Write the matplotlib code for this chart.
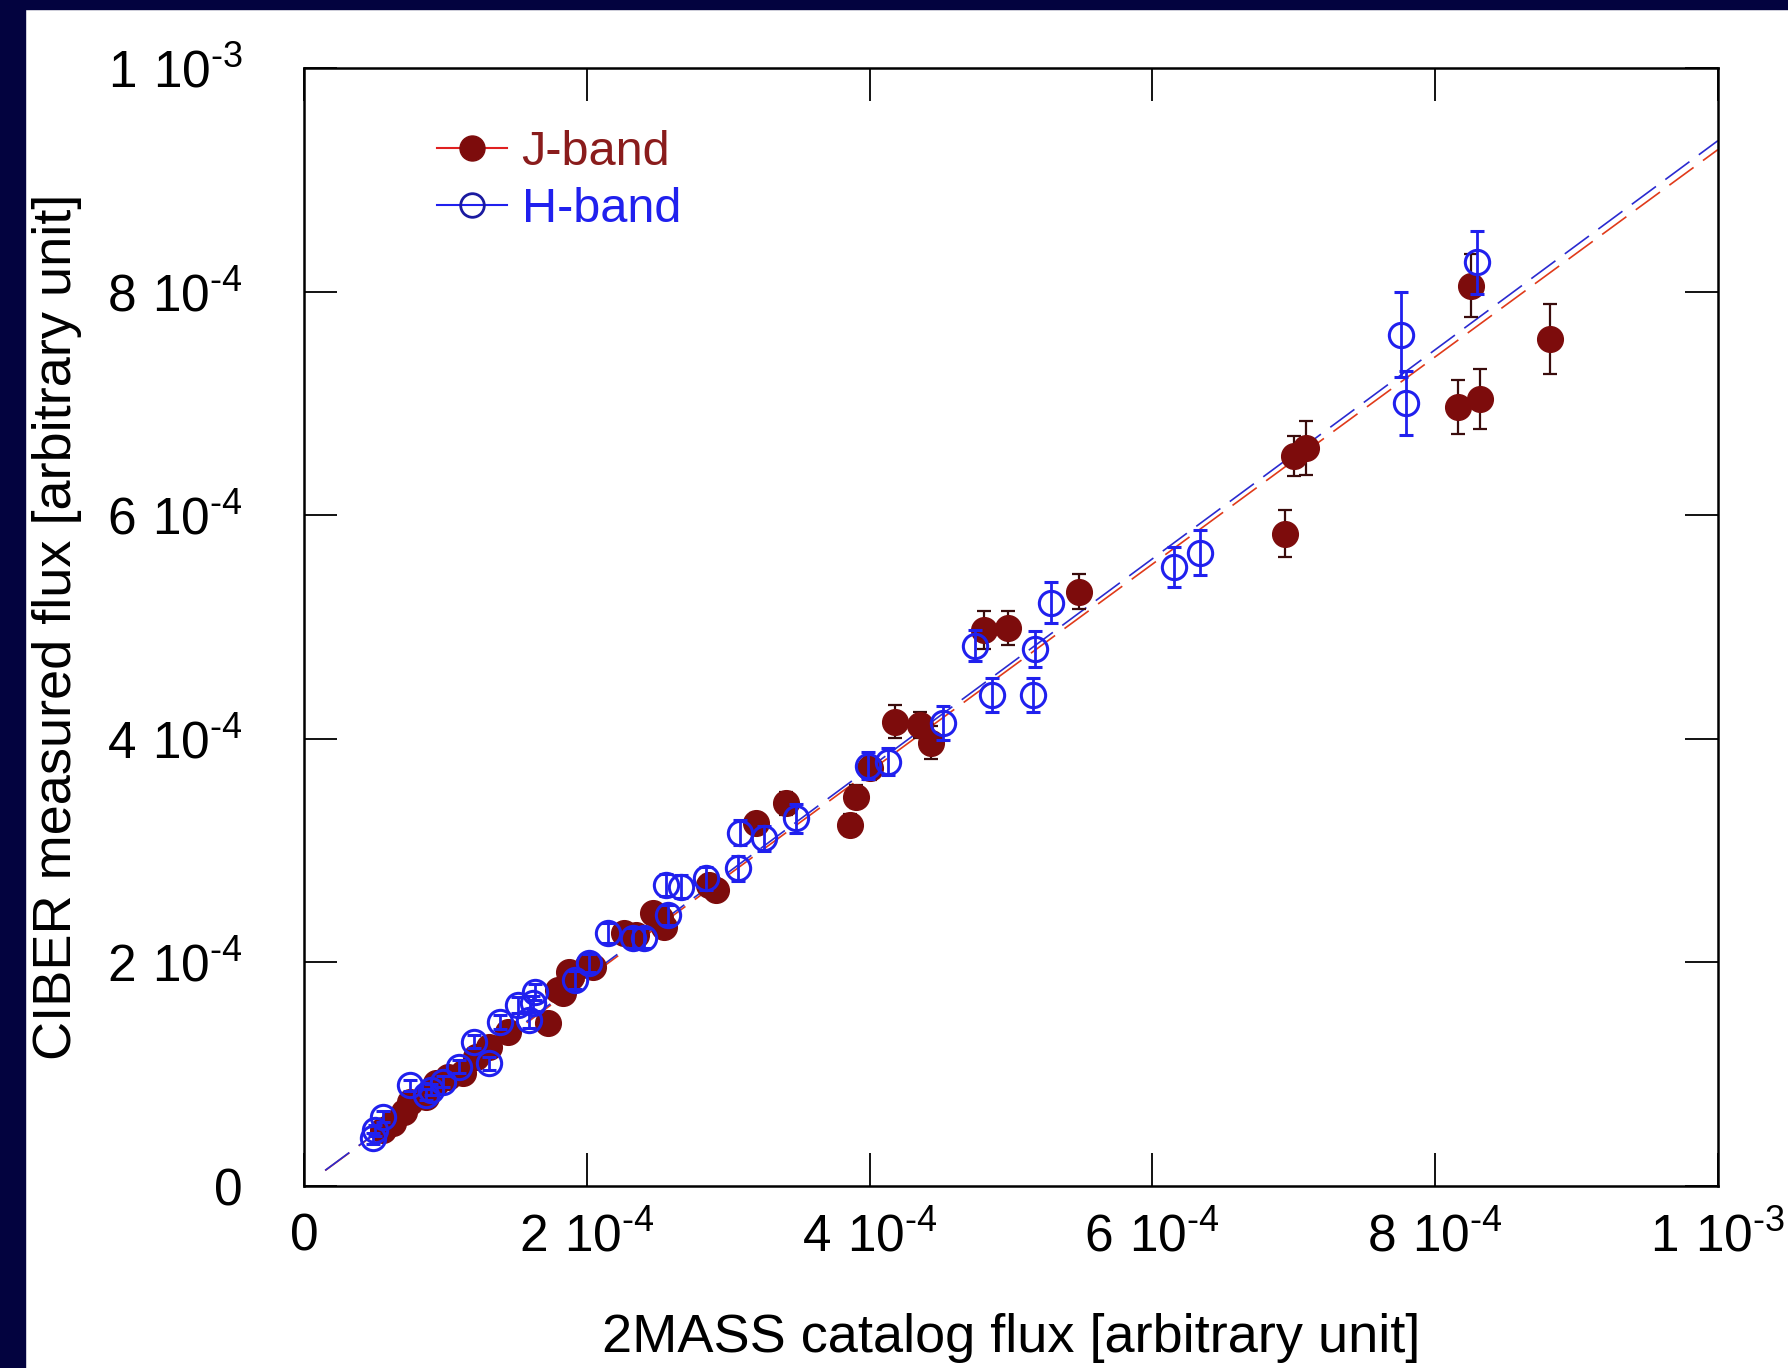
import numpy as np
import matplotlib
matplotlib.use("Agg")
import matplotlib.pyplot as plt
from matplotlib.lines import Line2D
from matplotlib.patches import Rectangle

plt.rcParams['font.family'] = ['Liberation Sans', 'DejaVu Sans']
plt.rcParams['mathtext.fontset'] = 'custom'
plt.rcParams['mathtext.rm'] = 'Liberation Sans'

# data in units of 1e-4 (2MASS flux, CIBER flux, error)
j_x = [8.814, 8.255, 8.160, 8.314, 6.937, 7.000, 7.088, 5.480, 4.978, 4.808,
       4.177, 4.360, 4.435, 4.000, 3.906, 3.863, 3.406, 3.198, 2.868, 2.915,
       2.515, 2.472, 2.548, 2.349, 2.266, 2.008, 2.043, 1.890, 1.878, 1.831,
       1.795, 1.725, 1.442, 1.312, 1.123, 1.018, 0.865, 0.747, 0.628, 0.557,
       1.218, 0.935, 0.710]
j_y = [7.576, 8.053, 6.967, 7.042, 5.834, 6.531, 6.600, 5.317, 4.990, 4.974,
       4.154, 4.124, 3.966, 3.735, 3.484, 3.230, 3.423, 3.245, 2.693, 2.648,
       2.395, 2.440, 2.316, 2.245, 2.265, 1.977, 1.962, 1.872, 1.917, 1.723,
       1.753, 1.455, 1.381, 1.246, 1.007, 0.978, 0.798, 0.754, 0.560, 0.500,
       1.156, 0.918, 0.663]
j_err = [0.31, 0.28, 0.24, 0.27, 0.21, 0.18, 0.24, 0.16, 0.15, 0.17,
         0.15, 0.12, 0.15, 0.10, 0.10, 0.10, 0.10, 0.09, 0.09, 0.09,
         0.08, 0.08, 0.08, 0.08, 0.08, 0.07, 0.07, 0.07, 0.07, 0.07,
         0.07, 0.07, 0.06, 0.06, 0.06, 0.05, 0.05, 0.05, 0.05, 0.05,
         0.06, 0.05, 0.05]

h_x = [8.298, 7.760, 7.795, 6.339, 6.150, 5.285, 5.167, 5.155, 4.867, 4.747,
       4.523, 4.129, 3.988, 3.481, 3.257, 3.085, 3.069, 2.844, 2.668, 2.561,
       2.573, 2.408, 2.326, 2.149, 2.019, 1.914, 1.631, 1.619, 1.513, 1.595,
       1.383, 1.206, 1.312, 1.100, 0.982, 0.747, 0.557, 0.499, 0.487, 0.863,
       0.900]
h_y = [8.261, 7.614, 7.003, 5.666, 5.536, 5.219, 4.802, 4.393, 4.393, 4.832,
       4.140, 3.796, 3.758, 3.290, 3.110, 3.161, 2.842, 2.752, 2.678, 2.693,
       2.424, 2.215, 2.215, 2.260, 1.992, 1.843, 1.738, 1.634, 1.618, 1.485,
       1.469, 1.291, 1.097, 1.067, 0.933, 0.903, 0.619, 0.500, 0.427, 0.816,
       0.860]
h_err = [0.28, 0.38, 0.29, 0.20, 0.18, 0.18, 0.16, 0.15, 0.15, 0.14,
         0.15, 0.12, 0.12, 0.13, 0.11, 0.11, 0.11, 0.10, 0.10, 0.10,
         0.09, 0.09, 0.09, 0.09, 0.08, 0.08, 0.07, 0.07, 0.07, 0.07,
         0.06, 0.06, 0.06, 0.06, 0.05, 0.05, 0.05, 0.05, 0.05, 0.05,
         0.05]

# linear fits (slope, range of x in 1e-4)
j_slope = 0.927
h_slope = 0.935
fit_x = [0.15, 10.0]

ticks = [0, 2, 4, 6, 8, 10]
tick_labels = ['0',
               r'$\mathregular{2\ 10^{\text{-}4}}$',
               r'$\mathregular{4\ 10^{\text{-}4}}$',
               r'$\mathregular{6\ 10^{\text{-}4}}$',
               r'$\mathregular{8\ 10^{\text{-}4}}$',
               r'$\mathregular{1\ 10^{\text{-}3}}$']

s = 1e-4
jx, jy, je = np.array(j_x) * s, np.array(j_y) * s, np.array(j_err) * s
hx, hy, he = np.array(h_x) * s, np.array(h_y) * s, np.array(h_err) * s
fx = np.array(fit_x) * s

fig = plt.figure(figsize=(17.88, 13.68), dpi=100, facecolor='white')
# dark frame of the slide
fig.patches.append(Rectangle((0, 0), 25 / 1788, 1, transform=fig.transFigure,
                             color='#03033f', zorder=0))
fig.patches.append(Rectangle((0, 1 - 9 / 1368), 1, 9 / 1368, transform=fig.transFigure,
                             color='#03033f', zorder=0))

ax = fig.add_axes([0.1700, 0.1330, 0.7908, 0.8173])

jred = '#7d0c0c'
hblue = '#2020ee'

ax.plot(fx, j_slope * fx, color='#e03a1a', lw=1.2, dashes=(18, 7), zorder=1)
ax.plot(fx, h_slope * fx, color='#2a2ad0', lw=1.2, dashes=(18, 7), zorder=1)

ax.errorbar(jx, jy, yerr=je, fmt='o', ms=18.5, mfc=jred, mec=jred,
            ecolor='#3a0c0c', elinewidth=1.6, capsize=5, capthick=1.6, zorder=2)
ax.errorbar(hx, hy, yerr=he, fmt='o', ms=17.5, mfc='none', mec=hblue, mew=2.2,
            ecolor=hblue, elinewidth=2.0, capsize=5, capthick=2.0, zorder=3)

ax.set_xlim(0, 1e-3)
ax.set_ylim(0, 1e-3)
ax.set_xticks(np.array(ticks) * s)
ax.set_yticks(np.array(ticks) * s)
ax.set_xticklabels(tick_labels)
ax.set_yticklabels(tick_labels)
ax.tick_params(direction='in', length=24, width=1.3, top=True, right=True,
               labelsize=37, colors='black')
ax.tick_params(axis='x', pad=19)
ax.tick_params(axis='y', pad=44)
for sp in ax.spines.values():
    sp.set_linewidth(1.8)

ax.set_xlabel('2MASS catalog flux [arbitrary unit]', fontsize=39, labelpad=36)
ax.set_ylabel('CIBER measured flux [arbitrary unit]', fontsize=39, labelpad=18)

handles = [
    Line2D([], [], color='#e02020', lw=1.5, marker='o', ms=18, mfc=jred, mec=jred),
    Line2D([], [], color=hblue, lw=1.5, marker='o', ms=17, mfc='none', mec='#1a1aa0', mew=2),
]
leg = ax.legend(handles, ['J-band', 'H-band'], loc='upper left',
                bbox_to_anchor=(0.08, 0.962), frameon=False, fontsize=35,
                handlelength=1.45, handletextpad=0.3, labelspacing=0.24,
                borderaxespad=0)
leg.get_texts()[0].set_color('#8a1c1c')
leg.get_texts()[1].set_color(hblue)

fig.savefig('out.png', dpi=100, facecolor=fig.get_facecolor())
